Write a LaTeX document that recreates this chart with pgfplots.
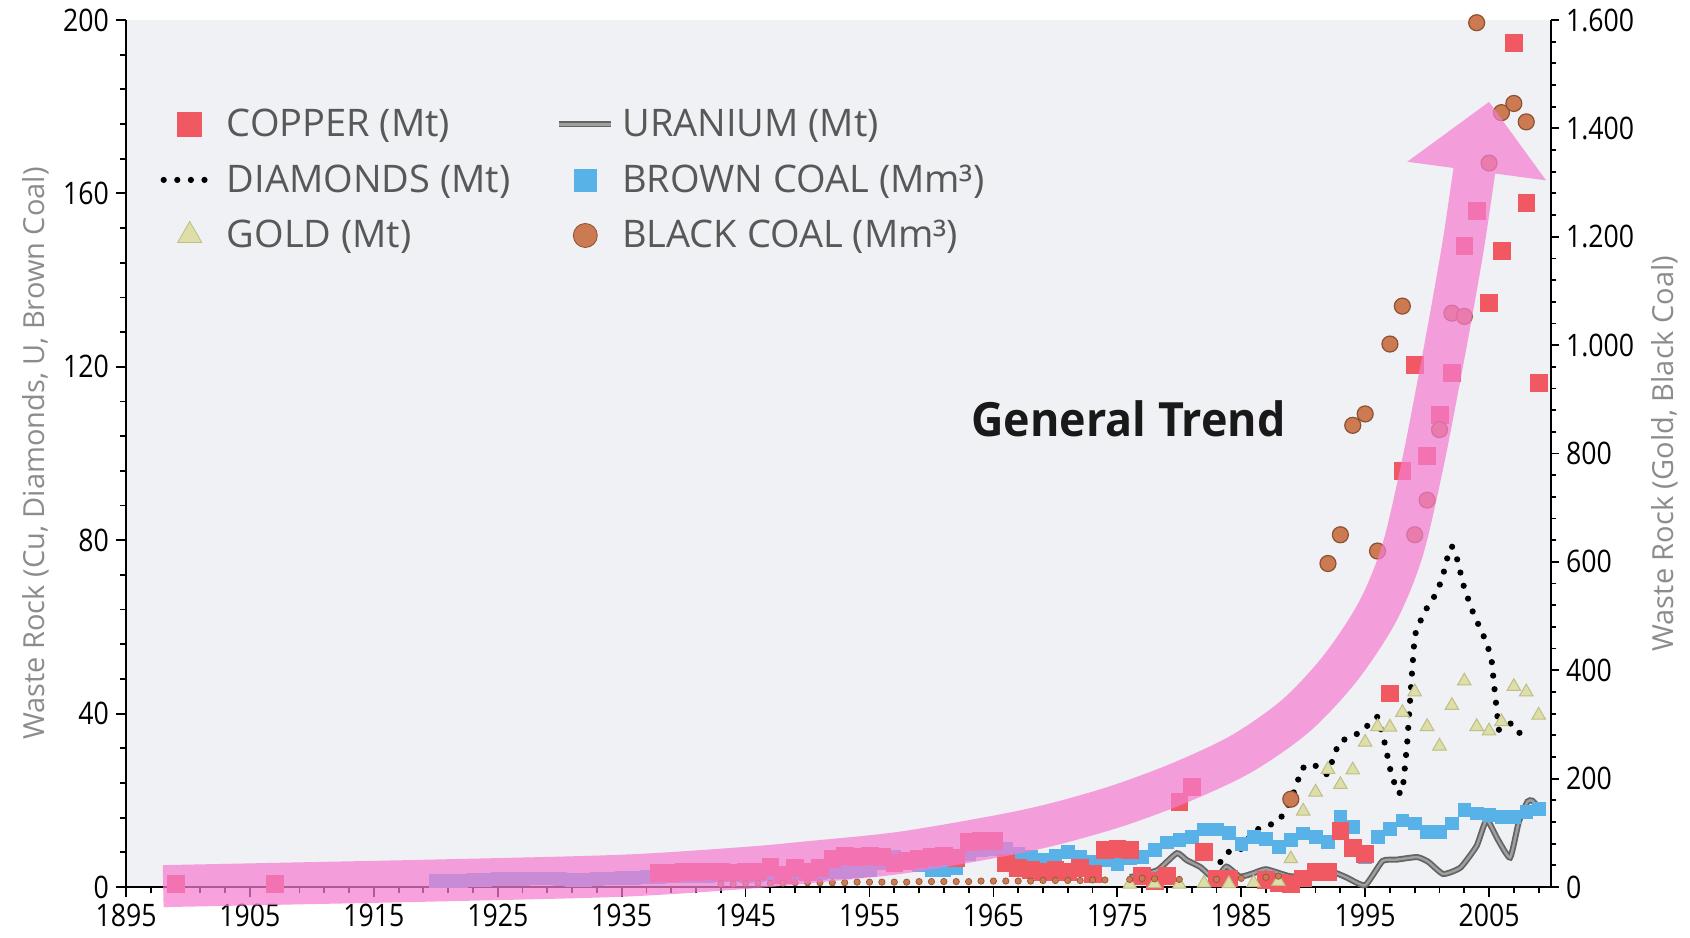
\documentclass[border=0pt]{standalone}
\usepackage{fontspec}
\setmainfont{Open Sans}
\newfontfamily\condfont{Open Sans}[FakeStretch=0.86]
\newfontfamily\gtfamily{Open Sans}[FakeStretch=0.95]
\usepackage{pgfplots}
\pgfplotsset{compat=1.18}
\definecolor{bgcol}{RGB}{239,241,244}
\definecolor{copper}{RGB}{240,88,98}
\definecolor{browncoal}{RGB}{88,178,232}
\definecolor{goldfill}{RGB}{222,222,168}
\definecolor{golddraw}{RGB}{190,190,135}
\definecolor{bcfill}{RGB}{204,122,82}
\definecolor{bcdraw}{RGB}{140,80,50}
\definecolor{urdark}{RGB}{100,100,100}
\definecolor{urlight}{RGB}{160,160,160}
\definecolor{arrowpink}{RGB}{245,125,208}
\definecolor{legtext}{RGB}{88,88,88}
\definecolor{labgrey}{RGB}{140,140,140}
\newcommand\tickfont{\condfont\fontsize{15.5}{17}\selectfont}
\newcommand\legfont{\fontsize{19}{22}\selectfont}
\newcommand\labfont{\fontsize{14.5}{16}\selectfont}
\pgfplotsset{
  common/.style={at={(0pt,0pt)}, anchor=south west, width=712.5pt, height=433.5pt,
    scale only axis, xmin=1895, xmax=2010, clip=false},
  coppermark/.style={only marks, mark=square*, mark size=4.2pt, mark options={fill=copper, draw=copper, line width=0.3pt}},
  brownmark/.style={only marks, mark=square*, mark size=3.2pt, mark options={fill=browncoal, draw=browncoal, line width=0.3pt}},
  goldmark/.style={only marks, mark=triangle*, mark size=3.9pt, mark options={fill=goldfill, draw=golddraw, line width=0.5pt}},
  bcmark/.style={only marks, mark=*, mark size=4pt, mark options={fill=bcfill, draw=bcdraw, line width=0.6pt}},
  uranline/.style={draw=urdark, double=urlight, double distance=1.2pt, line width=0.9pt, mark=none},
  diamline/.style={draw=black, line width=3.1pt, line cap=round, dash pattern=on 0pt off 6.8pt, mark=none},
}
\begin{document}
\begin{tikzpicture}
% ---------- left axis ----------
\begin{axis}[common,
  ymin=0, ymax=200,
  axis x line*=bottom, axis y line*=left,
  axis line style={-, line width=1pt, black},
  axis background/.style={fill=bgcol},
  xtick={1895,1905,...,2005}, minor xtick={1897,1899,...,2009},
  ytick={0,40,...,200}, minor y tick num=4,
  tick align=outside, major tick length=5pt, minor tick length=3pt,
  every tick/.style={black, line width=0.9pt},
  /pgf/number format/1000 sep={},
  /pgf/number format/assume math mode=true,
  tick label style={font=\tickfont, text=black},
  ylabel={Waste Rock (Cu, Diamonds, U, Brown Coal)},
  ylabel style={at={(axis description cs:-0.063,0.5)}, anchor=center, font=\labfont, text=labgrey},
  legend columns=2,
  legend cell align=left,
  legend image code/.code={\draw[mark repeat=2,mark phase=2,#1] plot coordinates {(0pt,0pt) (13pt,0pt) (26pt,0pt)};},
  legend style={at={(axis description cs:0.024,0.9)}, anchor=north west, draw=none, fill=none,
    font=\legfont, text=legtext, inner sep=0pt, nodes={inner sep=1pt},
    row sep=10.5pt,
    /tikz/every odd column/.append style={column sep=3pt},
    /tikz/every even column/.append style={column sep=22pt}},
]
% legend entries
\addlegendimage{only marks, mark=square*, mark size=6pt, mark options={fill=copper, draw=copper}}
\addlegendentry{COPPER (Mt)}
\addlegendimage{uranline}
\addlegendentry{URANIUM (Mt)}
\addlegendimage{diamline}
\addlegendentry{DIAMONDS (Mt)}
\addlegendimage{only marks, mark=square*, mark size=5.5pt, mark options={fill=browncoal, draw=browncoal}}
\addlegendentry{BROWN COAL (Mm³)}
\addlegendimage{only marks, mark=triangle*, mark size=7pt, mark options={fill=goldfill, draw=golddraw}}
\addlegendentry{GOLD (Mt)}
\addlegendimage{only marks, mark=*, mark size=6pt, mark options={fill=bcfill, draw=bcdraw}}
\addlegendentry{BLACK COAL (Mm³)}
% brown coal
\addplot[brownmark, forget plot] coordinates {
(1920,1.4)(1921,1.5)(1922,1.5)(1923,1.6)(1924,1.7)(1925,1.8)(1926,1.8)(1927,1.9)(1928,2.0)(1929,2.0)
(1930,1.9)(1931,1.7)(1932,1.7)(1933,1.9)(1934,2.0)(1935,2.1)(1936,2.2)(1937,2.3)(1938,2.4)(1939,2.5)
(1940,2.5)(1941,2.6)(1942,2.6)(1943,2.7)(1944,2.7)(1945,2.6)(1946,2.8)(1947,3.0)(1948,3.2)(1949,3.2)
(1950,3.1)(1951,3.2)(1952,3.4)(1953,3.5)(1954,3.7)(1955,3.9)(1956,5.5)(1957,7.0)(1958,6.2)(1959,5.0)
(1960,3.9)(1961,4.0)(1962,4.3)(1963,7.7)(1964,8.5)(1965,8.9)(1966,8.9)(1967,7.7)(1968,7.0)(1969,6.2)
(1970,7.3)(1971,8.1)(1972,7.0)(1973,5.8)(1974,6.2)(1975,5.4)(1976,6.6)(1977,7.0)(1978,8.5)(1979,10.3)
(1980,10.8)(1981,11.5)(1982,13.3)(1983,13.3)(1984,12.5)(1985,10.0)(1986,11.6)(1987,11.2)(1988,9.3)(1989,10.8)
(1990,12.4)(1991,11.6)(1992,10.4)(1993,16.2)(1994,13.9)(1995,7.0)(1996,11.6)(1997,13.5)(1998,15.4)(1999,14.7)
(2000,12.8)(2001,12.8)(2002,14.7)(2003,17.75)(2004,17.0)(2005,16.6)(2006,16.2)(2007,16.2)(2008,17.4)(2009,18.1)
};
% copper
\addplot[coppermark, forget plot] coordinates {
(1899,0.8)(1907,0.8)
(1938,3.3)(1939,3.3)(1940,3.5)(1941,3.5)(1942,3.6)(1943,3.5)(1944,3.4)(1945,3.5)(1946,3.6)(1947,4.6)(1948,2.8)(1949,4.5)
(1950,3.5)(1951,4.5)(1952,6.5)(1953,7.2)(1954,7.0)(1955,7.2)(1956,7.0)(1957,5.5)(1958,6.0)(1959,6.5)
(1960,7.0)(1961,7.2)(1962,6.8)(1963,10.5)(1964,10.6)(1965,10.6)(1966,5.5)(1967,4.5)(1968,4.0)(1969,3.5)
(1970,4.0)(1971,3.5)(1972,4.5)(1973,3.0)(1974,8.5)(1975,8.8)(1976,8.6)(1977,2.5)(1978,1.5)(1979,2.5)
(1980,19.7)(1981,23.1)(1982,8.1)(1983,2.0)(1984,2.0)(1987,1.6)(1988,1.0)(1989,0.8)(1990,2.0)(1991,3.5)
(1992,3.5)(1993,13.0)(1994,9.0)(1995,7.7)(1997,44.7)(1998,96.0)(1999,120.5)(2000,99.5)(2001,109.0)(2002,118.6)
(2003,148.0)(2004,156.0)(2005,134.7)(2006,146.7)(2007,194.7)(2008,157.8)(2009,116.3)
};
% uranium
\addplot[uranline, smooth, tension=0.3, forget plot] coordinates {
(1976.0,2.3)(1977.0,2.8)(1978.3,4.0)(1979.8,7.8)(1980.6,6.2)(1981.7,4.6)(1982.9,1.8)(1983.8,4.7)(1984.9,2.4)
(1986.0,3.2)(1987.0,4.1)(1988.9,2.5)(1990.6,2.4)(1992.3,3.5)(1993.5,2.2)(1995.0,0.4)(1996.4,6.0)(1997.5,6.3)
(1999.2,6.9)(2000.1,5.8)(2001.3,3.0)(2002.7,4.5)(2004.0,9.5)(2004.8,15.5)(2005.7,11.0)(2006.7,6.8)(2007.4,15.0)
(2008.1,19.7)(2008.5,19.9)(2009.0,18.3)
};
% diamonds
\addplot[diamline, forget plot] coordinates {
(1982.8,3.0)(1983.4,6.2)(1983.9,8.1)(1984.8,8.1)(1985.5,10.8)(1986.0,13.0)(1987.0,14.0)(1987.9,15.0)(1988.5,17.1)
(1989.3,22.2)(1989.9,27.4)(1990.8,28.4)(1991.9,26.0)(1992.3,28.7)(1992.9,33.5)(1993.9,34.7)(1994.9,36.1)(1995.4,38.1)
(1996.0,39.3)(1996.6,33.0)(1997.0,27.4)(1997.6,21.7)(1998.0,21.7)(1998.2,27.4)(1998.4,33.5)(1998.6,42.0)(1998.8,50.2)
(1999.0,58.0)(1999.4,61.0)(1999.9,64.0)(2000.4,66.0)(2000.9,68.9)(2001.2,71.0)(2001.7,76.7)(2002.0,78.6)(2002.4,75.9)
(2003.0,68.9)(2003.7,63.4)(2004.3,59.5)(2004.8,56.4)(2005.2,52.5)(2005.5,44.0)(2005.8,36.2)(2006.8,37.8)(2007.5,35.4)
(2007.9,33.5)
};
\node[font=\gtfamily\bfseries\fontsize{23.6}{27}\selectfont, text={rgb,255:red,25;green,25;blue,25}, anchor=center]
  at (axis cs:1975.9,107.9) {General Trend};
\end{axis}
% ---------- right axis ----------
\begin{axis}[common,
  ymin=0, ymax=1600,
  axis x line=none, axis y line*=right,
  axis line style={-, line width=1pt, black},
  ytick={0,200,...,1600}, minor y tick num=4,
  tick align=outside, major tick length=4pt, minor tick length=2.5pt,
  every tick/.style={black, line width=0.9pt},
  /pgf/number format/1000 sep={.},
  /pgf/number format/assume math mode=true,
  tick label style={font=\tickfont, text=black},
  ylabel={Waste Rock (Gold, Black Coal)},
  ylabel style={at={(axis description cs:1.08,0.5)}, anchor=center, font=\labfont, text=labgrey},
]
% gold
\addplot[goldmark] coordinates {
(1976,5)(1978,6)(1980,5)(1982,7)(1984,6)(1986,8)(1988,10)
(1989,52)(1990,140)(1991,175)(1992,217)(1993,189)(1994,216)(1995,267)(1996,296)(1997,295)(1998,322)(1999,360)
(2000,296)(2001,260)(2002,335)(2003,380)(2004,296)(2005,288)(2006,305)(2007,370)(2008,360)(2009,317)
};
% black coal, early years (near zero)
\addplot[only marks, mark=*, mark size=1.6pt, mark options={fill=bcfill, draw=bcdraw, line width=0.3pt}] coordinates {
(1943,6)(1944,6)(1945,7)(1946,7)(1947,7)(1948,7)(1949,8)(1950,8)(1951,8)(1952,8)(1953,8)(1954,9)
(1955,9)(1956,9)(1957,9)(1958,9)(1959,10)(1960,10)(1961,10)(1962,10)(1963,10)(1964,11)(1965,11)(1966,11)
(1967,11)(1968,11)(1969,12)(1970,12)(1971,12)(1972,12)(1973,13)(1974,13)(1976,14)(1977,16)(1978,15)(1980,14)
(1983,14)(1985,16)(1987,18)(1988,20)
};
% black coal
\addplot[bcmark] coordinates {
(1989,162)(1992,597)(1993,650)(1994,852)(1995,873)(1996,620)(1997,1002)(1998,1072)(1999,650)(2000,714)
(2001,844)(2002,1059)(2003,1053)(2004,1595)(2005,1336)(2006,1429)(2007,1446)(2008,1412)
};
\end{axis}
% ---------- general trend arrow ----------
\begin{scope}[transparency group, opacity=0.72]
\begin{axis}[common, ymin=0, ymax=200, hide axis]
\addplot[draw=arrowpink, line width=21pt, line cap=butt, smooth, tension=0.5] coordinates {
(1898,0.2)(1910,0.9)(1920,1.5)(1935,2.6)(1945,4.4)(1950,5.7)(1957.5,7.9)(1965.5,11.8)(1970,14.6)(1975,18.7)
(1980,24.0)(1985,30.7)(1989.4,39.5)(1993,50.5)(1996,63.5)(1998,77.5)(1999.6,97)(2001,117.5)(2002,133)(2003,149.5)(2004.1,171)
};
\addplot[fill=arrowpink, draw=none] coordinates {(1998.4,167.3)(2005.0,181.1)(2009.6,163.0)};
\end{axis}
\end{scope}
\pgfresetboundingbox
\path (-63pt,-25pt) rectangle (782pt,443.5pt);
\end{tikzpicture}
\end{document}
